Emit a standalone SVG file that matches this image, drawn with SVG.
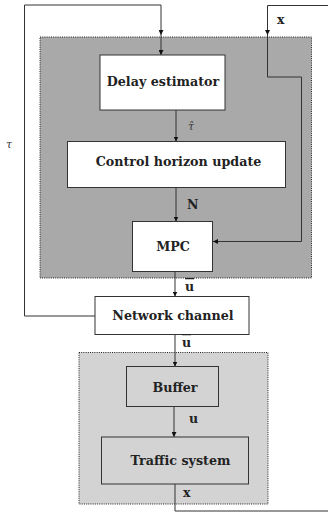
<svg xmlns="http://www.w3.org/2000/svg" width="328" height="515" viewBox="0 0 328 515">
  <style>
    .box { fill: #ffffff; stroke: #333333; stroke-width: 1; }
    .lbox { fill: #d3d3d3; stroke: #333333; stroke-width: 1; }
    .group-dark { fill: #a9a9a9; stroke: #222222; stroke-width: 1; stroke-dasharray: 1 1.2; }
    .group-light { fill: #d3d3d3; stroke: #222222; stroke-width: 1; stroke-dasharray: 1 1.2; }
    .wire { fill: none; stroke: #333333; stroke-width: 1; }
    .t { font-family: "DejaVu Serif", "Liberation Serif", serif; font-weight: bold; font-size: 12.7px; fill: #222222; text-anchor: middle; }
    .lbl { font-family: "DejaVu Serif", "Liberation Serif", serif; font-weight: bold; font-size: 12.5px; fill: #222222; }
    .greek { font-family: "DejaVu Serif", "Liberation Serif", serif; font-style: italic; font-size: 11px; fill: #333333; }
  </style>
  <defs>
    <marker id="arr" markerWidth="5" markerHeight="5" refX="5" refY="2.5" orient="auto" markerUnits="userSpaceOnUse">
      <path d="M0,0 L5,2.5 L0,5 z" fill="#111111"/>
    </marker>
  </defs>

  <!-- controller side group -->
  <rect id="controller-group" class="group-dark" x="40" y="37" width="271.5" height="241"/>
  <!-- plant side group -->
  <rect id="plant-group" class="group-light" x="79" y="352.5" width="189" height="151.5"/>

  <g id="connectors">
    <!-- measured delay fed back from network channel -->
    <path class="wire" d="M95,316 H24.5 V5 H161 V35" marker-end="url(#arr)"/>
    <path class="wire" d="M161,35 V55" marker-end="url(#arr)"/>
    <!-- estimated delay -->
    <path class="wire" d="M176,110 V141.5" marker-end="url(#arr)"/>
    <!-- horizon -->
    <path class="wire" d="M176,187.5 V221.5" marker-end="url(#arr)"/>
    <!-- state feedback into MPC -->
    <path class="wire" d="M328,5.5 H267.5 V35" marker-end="url(#arr)"/>
    <path class="wire" d="M267.5,35 V77 H301.5 V241.5 H213" marker-end="url(#arr)"/>
    <!-- control sequence through network -->
    <path class="wire" d="M175,272 V296.5" marker-end="url(#arr)"/>
    <path class="wire" d="M175,334.5 V366.5" marker-end="url(#arr)"/>
    <path class="wire" d="M174,407 V437" marker-end="url(#arr)"/>
    <!-- plant state output -->
    <path class="wire" d="M175,484 V511 H328"/>
  </g>

  <g id="delay-estimator">
    <rect class="box" x="100" y="55" width="125" height="55"/>
    <text class="t" x="163" y="86">Delay estimator</text>
  </g>
  <g id="control-horizon-update">
    <rect class="box" x="67.5" y="141.5" width="218" height="46"/>
    <text class="t" x="178.5" y="166">Control horizon update</text>
  </g>
  <g id="mpc">
    <rect class="box" x="132.5" y="221.5" width="80" height="50"/>
    <text class="t" x="173" y="251">MPC</text>
  </g>
  <g id="network-channel">
    <rect class="box" x="95" y="296.5" width="154" height="38"/>
    <text class="t" x="173" y="320">Network channel</text>
  </g>
  <g id="buffer">
    <rect class="lbox" x="126.5" y="366.5" width="92" height="40"/>
    <text class="t" x="175" y="392">Buffer</text>
  </g>
  <g id="traffic-system">
    <rect class="lbox" x="101.5" y="437" width="147" height="47"/>
    <text class="t" x="180.5" y="465">Traffic system</text>
  </g>

  <g id="labels">
    <text class="lbl" x="277" y="24">x</text>
    <text class="greek" x="188" y="130">τ̂</text>
    <text class="lbl" x="187" y="209">N</text>
    <text class="lbl" x="185" y="291" style="text-decoration: overline;">u</text>
    <text class="lbl" x="182" y="347" style="text-decoration: overline;">u</text>
    <text class="lbl" x="189" y="423">u</text>
    <text class="lbl" x="183" y="497">x</text>
    <text class="greek" x="6" y="148">τ</text>
  </g>
</svg>
